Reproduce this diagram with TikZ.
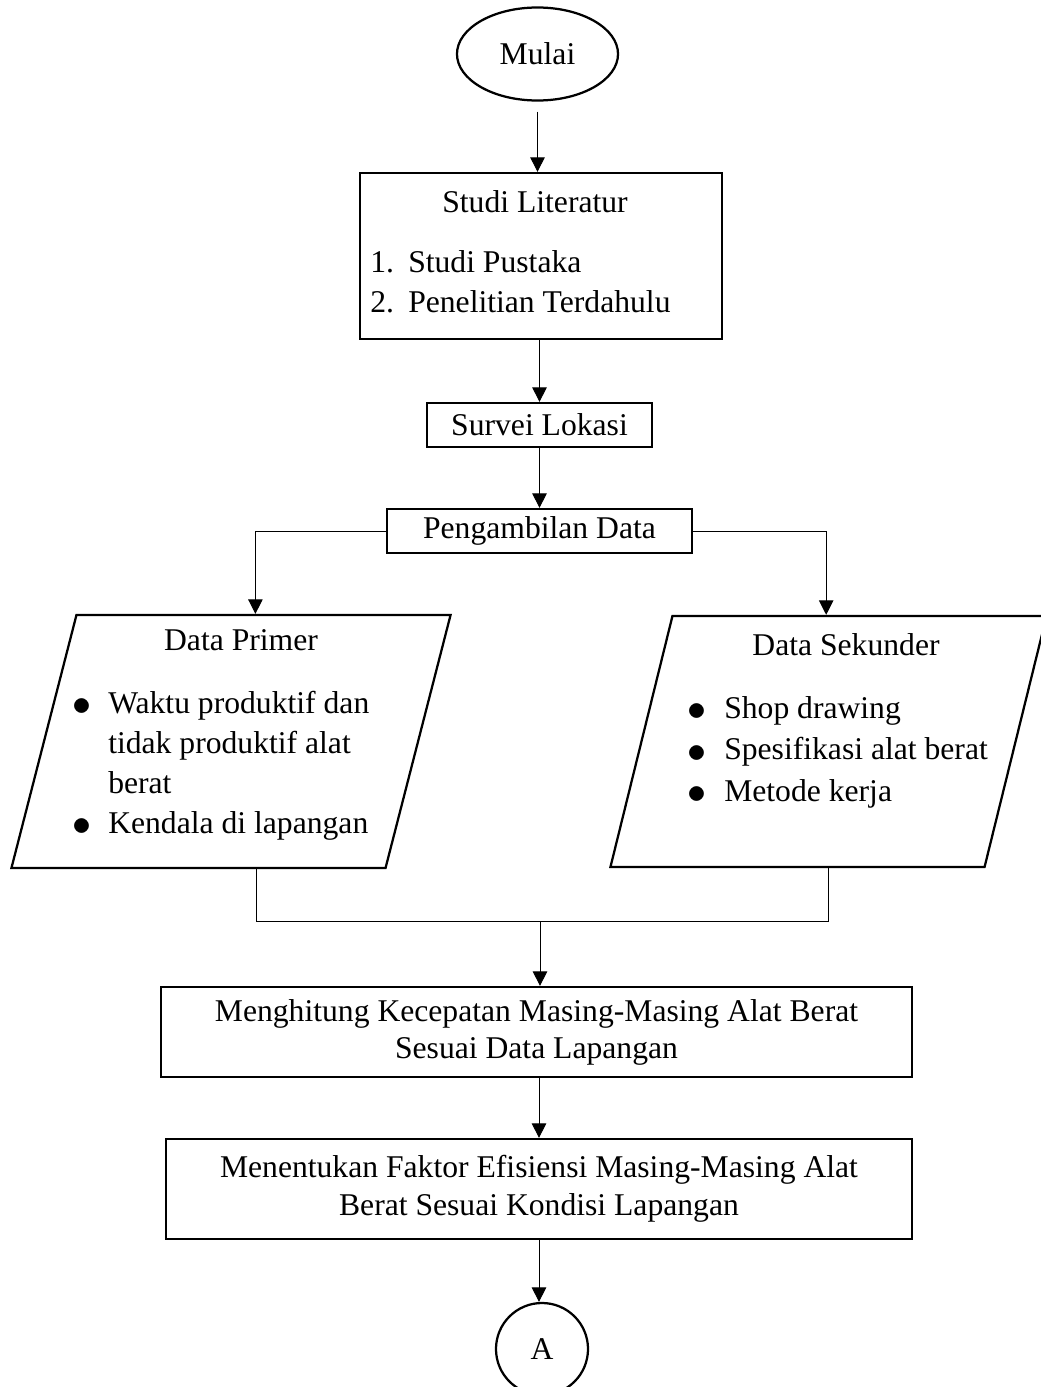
\documentclass[tikz,border=0pt]{standalone}
\usepackage{fontspec}
\setmainfont{Liberation Serif}
\usepackage{tikz}
\usetikzlibrary{shapes.geometric,arrows.meta}
\newcommand{\butir}{\raisebox{-1.5pt}{\scalebox{1.3}{$\bullet$}}}
\tikzset{
  kotak/.style={draw, rectangle, line width=1.6pt, inner sep=0pt},
  jajar/.style={draw, rectangle, line width=1.6pt, inner sep=0pt, transform shape},
  panah/.style={-{Triangle[length=0.36cm,width=0.36cm]}, line width=0.7pt},
  garis/.style={line width=0.7pt}
}

\begin{document}
\begin{tikzpicture}[x=0.025cm, y=-0.025cm, font=\fontsize{22.5}{28.5}\selectfont]
  \useasboundingbox (0,0) rectangle (1040,1387);
  % start
  \node[draw, ellipse, line width=1.6pt, inner sep=0pt, minimum width=4.025cm, minimum height=2.325cm] (mulai) at (537.5,54) {Mulai};
  % literatur
  \node[kotak, minimum width=9.05cm, minimum height=4.15cm] (studi) at (541,256) {};
  \node[anchor=base] (studiJudul) at (535,212) {Studi Literatur};
  \node[anchor=base west, inner sep=0pt] (studiIsi) at (370,272)
    {\begin{tabular}[t]{@{}p{27pt}@{}l@{}}1.&Studi Pustaka\\2.&Penelitian Terdahulu\end{tabular}};
  \node[kotak, minimum width=5.625cm, minimum height=1.1cm] (survei) at (539.5,425) {Survei Lokasi};
  \node[kotak, minimum width=7.625cm, minimum height=1.1cm] (ambil) at (539.5,531) {Pengambilan Data};
  % data (parallelogram = slanted box)
  \begin{scope}[shift={(231,741.5)}, xslant=0.257]
    \node[jajar, minimum width=9.35cm, minimum height=6.325cm] (primer) at (0,0) {};
  \end{scope}
  \begin{scope}[shift={(828.5,741.5)}, xslant=0.247]
    \node[jajar, minimum width=9.35cm, minimum height=6.275cm] (sekunder) at (0,0) {};
  \end{scope}
  \node[anchor=base] (primerJudul) at (241,650) {Data Primer};
  \node[anchor=base west, inner sep=0pt] (primerIsi) at (72,713)
    {\begin{tabular}[t]{@{}p{25.6pt}@{}l@{}}\butir&Waktu produktif dan\\&tidak produktif alat\\&berat\\\butir&Kendala di lapangan\end{tabular}};
  \node[anchor=base] (sekunderJudul) at (846,655) {Data Sekunder};
  \node[anchor=base west, inner sep=0pt, font=\fontsize{22.5}{29.8}\selectfont] (sekunderIsi) at (687,718)
    {\begin{tabular}[t]{@{}p{26.3pt}@{}l@{}}\butir&Shop drawing\\\butir&Spesifikasi alat berat\\\butir&Metode kerja\end{tabular}};
  \coordinate (gabung) at (540,921);
  % hitung
  \node[kotak, minimum width=18.775cm, minimum height=2.25cm, align=center, font=\fontsize{22.5}{26.3}\selectfont] (hitung) at (536.5,1032)
    {Menghitung Kecepatan Masing-Masing Alat Berat\\Sesuai Data Lapangan};
  \node[kotak, minimum width=18.65cm, minimum height=2.5cm, align=center, font=\fontsize{22.5}{27}\selectfont] (tentu) at (539,1189)
    {Menentukan Faktor Efisiensi Masing-Masing Alat\\Berat Sesuai Kondisi Lapangan};
  \node[draw, circle, line width=1.6pt, inner sep=0pt, minimum size=2.3cm] (A) at (542,1349) {A};
  % panah
  \draw[panah, shorten <=0.25cm] (mulai) -- (mulai |- studi.north);
  \draw[panah] (survei |- studi.south) -- (survei);
  \draw[panah] (survei) -- (ambil);
  \draw[panah] (ambil.west) -| ([xshift=-0.21cm]primer.north);
  \draw[panah] (ambil.east) -| ([xshift=-0.84cm]sekunder.north);
  \draw[garis] ([xshift=1.46cm]primer.south) |- (gabung) -| ([xshift=0.775cm]sekunder.south);
  \draw[panah] (gabung) -- (gabung |- hitung.north);
  \draw[panah] (tentu |- hitung.south) -- (tentu);
  \draw[panah] (tentu) -- (tentu |- A.north);
\end{tikzpicture}
\end{document}
